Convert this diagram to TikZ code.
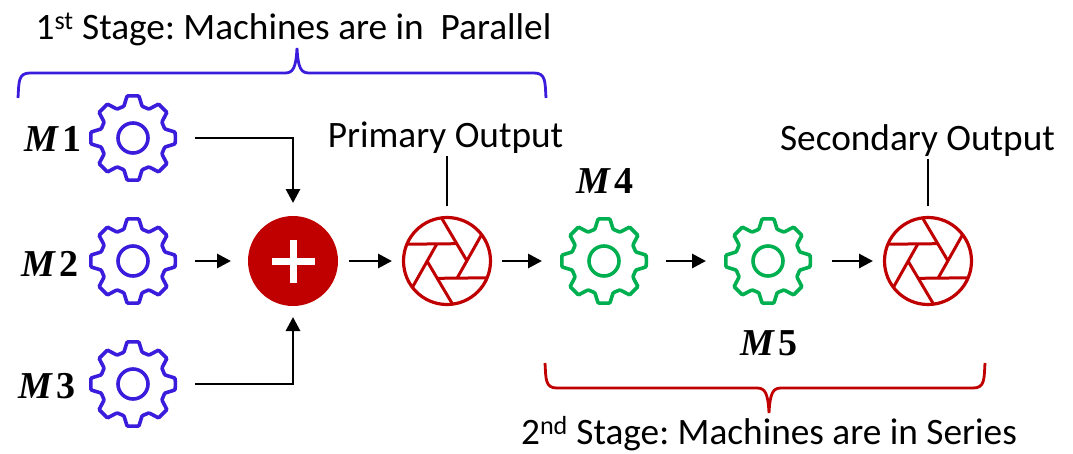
\documentclass[tikz,border=0pt]{standalone}
\usepackage{fontspec}
\setmainfont{Carlito}
\newfontfamily\mfont{Liberation Serif}
\usetikzlibrary{arrows.meta}

\definecolor{mblue}{HTML}{3A1CDC}
\definecolor{mgreen}{HTML}{00B050}
\definecolor{mred}{HTML}{C00000}

\tikzset{
  gearnode/.style={circle, minimum size=88pt, inner sep=0pt, outer sep=18pt},
  shutternode/.style={circle, minimum size=88pt, inner sep=0pt, outer sep=11pt},
  plusnode/.style={circle, fill=mred, minimum size=90pt, inner sep=0pt, outer sep=11pt},
  arr/.style={-{Triangle[length=14pt,width=14pt]}, line width=2.9pt},
  tick/.style={line width=2.9pt, shorten >=3pt},
  caption/.style={anchor=base, inner sep=0pt, font=\fontsize{37.3}{44}\selectfont\frenchspacing},
  mlabel/.style={inner sep=0pt, font=\fontsize{38}{44}\selectfont\mfont\bfseries},
  gear/.pic={
    \draw[line width=3.6pt, rounded corners=1pt] (0:42.5) \foreach \a in {0,45,...,315} {
      -- (\a+8:42.5) -- (\a+16:33) -- (\a+29:33) -- (\a+37:42.5)} -- cycle;
    \draw[line width=3.6pt] (0,0) circle (15);
  },
  shutter/.pic={
    \draw[line width=3.2pt] (0,0) circle (43.5);
    \foreach \a in {0,60,...,300}
      \draw[line width=3pt] (\a:20) -- (\a-97:43);
  }
}

\begin{document}
\begin{tikzpicture}[x=1pt, y=-1pt]
\useasboundingbox (0,0) rectangle (1073,453);
% machines and outputs
\node[gearnode] (m1) at (133,138) {};
\node[gearnode] (m2) at (133,261) {};
\node[gearnode] (m3) at (133,384) {};
\node[gearnode] (m4) at (604,261) {};
\node[gearnode] (m5) at (768,261) {};
\node[plusnode] (sum) at (293,261) {};
\node[shutternode] (out1) at (447,261) {};
\node[shutternode] (out2) at (928,261) {};
\pic[mblue] at (m1) {gear};
\pic[mblue] at (m2) {gear};
\pic[mblue] at (m3) {gear};
\pic[mgreen] at (m4) {gear};
\pic[mgreen] at (m5) {gear};
\pic[mred] at (out1) {shutter};
\pic[mred] at (out2) {shutter};
\draw[white, line width=7pt] (272,261) -- (315,261) (293,240) -- (293,283);
% labels
\node[mlabel] (lm1) at (53,139) {\textit{M}\kern3pt 1};
\node[mlabel] (lm2) at (50,264) {\textit{M}\kern3pt 2};
\node[mlabel] (lm3) at (47,386) {\textit{M}\kern3pt 3};
\node[mlabel] (lm4) at (605,181) {\textit{M}\kern3pt 4};
\node[mlabel] (lm5) at (769,343) {\textit{M}\kern3pt 5};
\node[caption] (stage1) at (293.5,39) {1\textsuperscript{st} Stage: Machines are in \ Parallel};
\node[caption] (stage2) at (769,444) {2\textsuperscript{nd} Stage: Machines are in Series};
\node[caption] (prim) at (445.5,147) {Primary Output};
\node[caption] (sec) at (917.5,150) {Secondary Output};
% connectors
\draw[arr, shorten >=2pt] (m1) -| (sum);
\draw[arr, shorten >=6pt] (m2) -- (sum);
\draw[arr] (m3) -| (sum);
\draw[arr] (sum) -- (out1);
\draw[arr] (out1) -- (m4);
\draw[arr] (m4) -- (m5);
\draw[arr, shorten <=2pt] (m5) -- (out2);
\draw[tick] (out1) -- (out1 |- prim.south);
\draw[tick] (out2) -- (out2 |- sec.south);
% braces
\draw[mblue, line width=2.8pt] (18,98) .. controls (19,82) and (18,73) .. (30,73)
  -- (285,73) .. controls (293,73) and (296,68) .. (297,48)
  .. controls (298,68) and (301,73) .. (309,73) -- (534,73)
  .. controls (546,73) and (545,82) .. (546,98);
\draw[mred, line width=2.8pt] (545,363) .. controls (546,379) and (545,388) .. (557,388)
  -- (757,388) .. controls (765,388) and (768,393) .. (769,413)
  .. controls (770,393) and (773,388) .. (781,388) -- (973,388)
  .. controls (985,388) and (984,379) .. (985,363);
\end{tikzpicture}
\end{document}
